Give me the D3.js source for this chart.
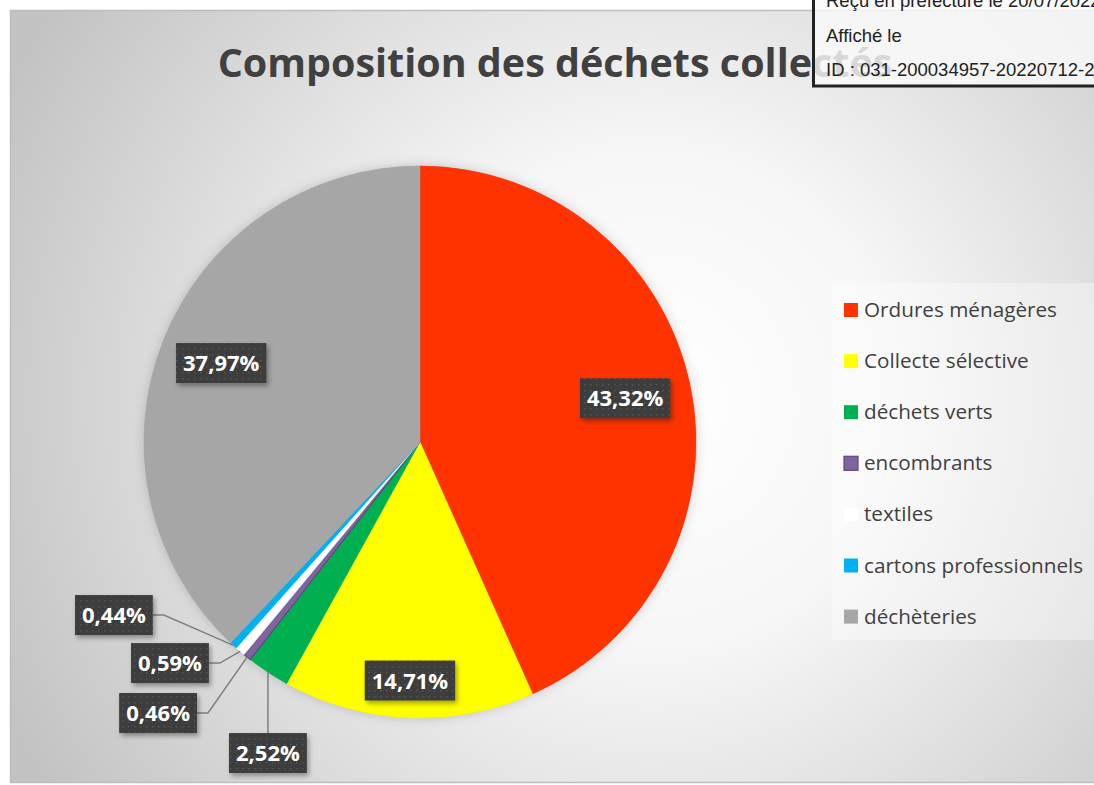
<!DOCTYPE html>
<html><head><meta charset="utf-8">
<script src="https://cdn.jsdelivr.net/npm/d3@7"></script>
<style>body{margin:0;background:#fff;overflow:hidden} svg{display:block}</style>
</head><body>
<svg id="c" width="1094" height="785"></svg>
<script>
// ---- data ----
const categories = ["Ordures ménagères","Collecte sélective","déchets verts","encombrants","textiles","cartons professionnels","déchèteries"];
const values = [43.32, 14.71, 2.52, 0.46, 0.59, 0.44, 37.97];
const valueLabels = ["43,32%","14,71%","2,52%","0,46%","0,59%","0,44%","37,97%"];
const title = "Composition des déchets collectés";
const stampLines = ["Reçu en préfecture le 20/07/2022","Affiché le","ID : 031-200034957-20220712-2"];

// ---- styles / layout ----
const colors = ["#ff3300","#ffff00","#00b050","#8064a2","#ffffff","#00b0f0","#a6a6a6"];
const strokes = [null,null,null,"#5f4a7d",null,null,null];
// label placement: inside (k = fraction of radius) or outside (dx,dy in radius units + leader type)
const placement = [
  {k:0.76},{k:0.865},
  {dx:-0.551, dy:1.127, leader:"v"},
  {dx:-0.949, dy:0.982, leader:"h"},
  {dx:-0.906, dy:0.801, leader:"h"},
  {dx:-1.109, dy:0.627, leader:"h"},
  {k:0.775}
];
const W=1094, H=785, cx=420, cy=442, R=276;

const svg = d3.select("#c");
const defs = svg.append("defs");
const bg = defs.append("radialGradient").attr("id","bg").attr("gradientUnits","userSpaceOnUse")
  .attr("cx",650).attr("cy",400).attr("r",720);
bg.append("stop").attr("offset","0").attr("stop-color","#ffffff");
bg.append("stop").attr("offset","0.35").attr("stop-color","#f6f6f6");
bg.append("stop").attr("offset","1").attr("stop-color","#c2c2c2");
const pat = defs.append("pattern").attr("id","dots").attr("patternUnits","userSpaceOnUse").attr("width",6).attr("height",6);
pat.append("rect").attr("width",6).attr("height",6).attr("fill","#3d3d3d");
pat.append("rect").attr("x",2).attr("y",2).attr("width",1.5).attr("height",1.5).attr("fill","#555");
const sh = defs.append("filter").attr("id","sh").attr("x","-20%").attr("y","-20%").attr("width","150%").attr("height","150%");
sh.append("feDropShadow").attr("dx",2).attr("dy",3).attr("stdDeviation",2.5).attr("flood-color","#000").attr("flood-opacity",0.35);
const psh = defs.append("filter").attr("id","psh").attr("x","-20%").attr("y","-20%").attr("width","140%").attr("height","140%");
psh.append("feDropShadow").attr("dx",0).attr("dy",0).attr("stdDeviation",6).attr("flood-color","#000").attr("flood-opacity",0.18);

// chart area
svg.append("rect").attr("x",10.5).attr("y",10.5).attr("width",W).attr("height",772).attr("fill","url(#bg)").attr("stroke","#bdbdbd").attr("stroke-width",1.5);

// title
const t = svg.append("text").attr("x",555).attr("y",77).attr("text-anchor","middle")
  .attr("font-family","Open Sans").attr("font-weight","bold").attr("font-size",40).attr("fill","#404040").text(title);
const tw = t.node().getComputedTextLength();
t.attr("font-size", 40*675/tw);

// pie
const pie = d3.pie().sort(null).value(d=>d).startAngle(0).endAngle(2*Math.PI);
const arcs = pie(values);
const arc = d3.arc().innerRadius(0).outerRadius(R);
const g = svg.append("g").attr("transform",`translate(${cx},${cy})`);
g.append("circle").attr("r",R).attr("fill","#aaa").attr("filter","url(#psh)");
g.selectAll("path.s").data(arcs).join("path").attr("class","s")
  .attr("d",arc).attr("fill",(d,i)=>colors[i])
  .attr("stroke",(d,i)=>strokes[i]||colors[i]).attr("stroke-width",(d,i)=>strokes[i]?1.2:0.5);

// labels
const lg = g.append("g");
arcs.forEach((d,i)=>{
  const p = placement[i];
  const mid = (d.startAngle+d.endAngle)/2;
  let x,y;
  if(p.k!==undefined){ x = Math.sin(mid)*R*p.k; y = -Math.cos(mid)*R*p.k; }
  else { x = p.dx*R; y = p.dy*R; }
  const txt = lg.append("text").attr("font-family","Open Sans").attr("font-weight","bold").attr("font-size",22)
    .attr("fill","#fff").attr("text-anchor","middle").attr("x",x).attr("y",y+8).text(valueLabels[i]);
  const w = txt.node().getComputedTextLength()+14, h=40;
  if(p.leader){
    const ex = Math.sin(mid)*R, ey = -Math.cos(mid)*R;
    let pts;
    if(p.leader==="h"){ pts=[[x+w/2,y],[x+w/2+11,y],[ex,ey]]; }
    else { pts=[[x,y-h/2],[ex,ey]]; }
    lg.insert("path",":first-child").attr("d",d3.line()(pts)).attr("fill","none").attr("stroke","#7f7f7f").attr("stroke-width",1.5);
  }
  lg.insert("rect","text:last-child").attr("x",x-w/2).attr("y",y-h/2).attr("width",w).attr("height",h)
    .attr("fill","url(#dots)").attr("filter","url(#sh)");
});

// legend
svg.append("rect").attr("x",832).attr("y",283).attr("width",270).attr("height",357).attr("fill","#fff").attr("opacity",0.35);
const leg = svg.append("g");
categories.forEach((c,i)=>{
  const y = 310 + i*51.1;
  leg.append("rect").attr("x",844).attr("y",y-7).attr("width",14).attr("height",14).attr("fill",colors[i])
    .attr("stroke",strokes[i]||"none").attr("stroke-width",1.2);
  leg.append("text").attr("x",864).attr("y",y+7).attr("font-family","Open Sans").attr("font-size",20.7).attr("fill","#404040").text(c);
});

// stamp
const st = svg.append("g");
st.append("rect").attr("x",813.5).attr("y",-10).attr("width",300).attr("height",96).attr("fill","#fafafa").attr("fill-opacity",0.82).attr("stroke","#222").attr("stroke-width",3);
stampLines.forEach((s,i)=>{
  st.append("text").attr("x",826).attr("y",7+i*34.5).attr("font-family","Liberation Sans").attr("font-size",18.5).attr("fill","#222").text(s);
});
</script>
</body></html>
